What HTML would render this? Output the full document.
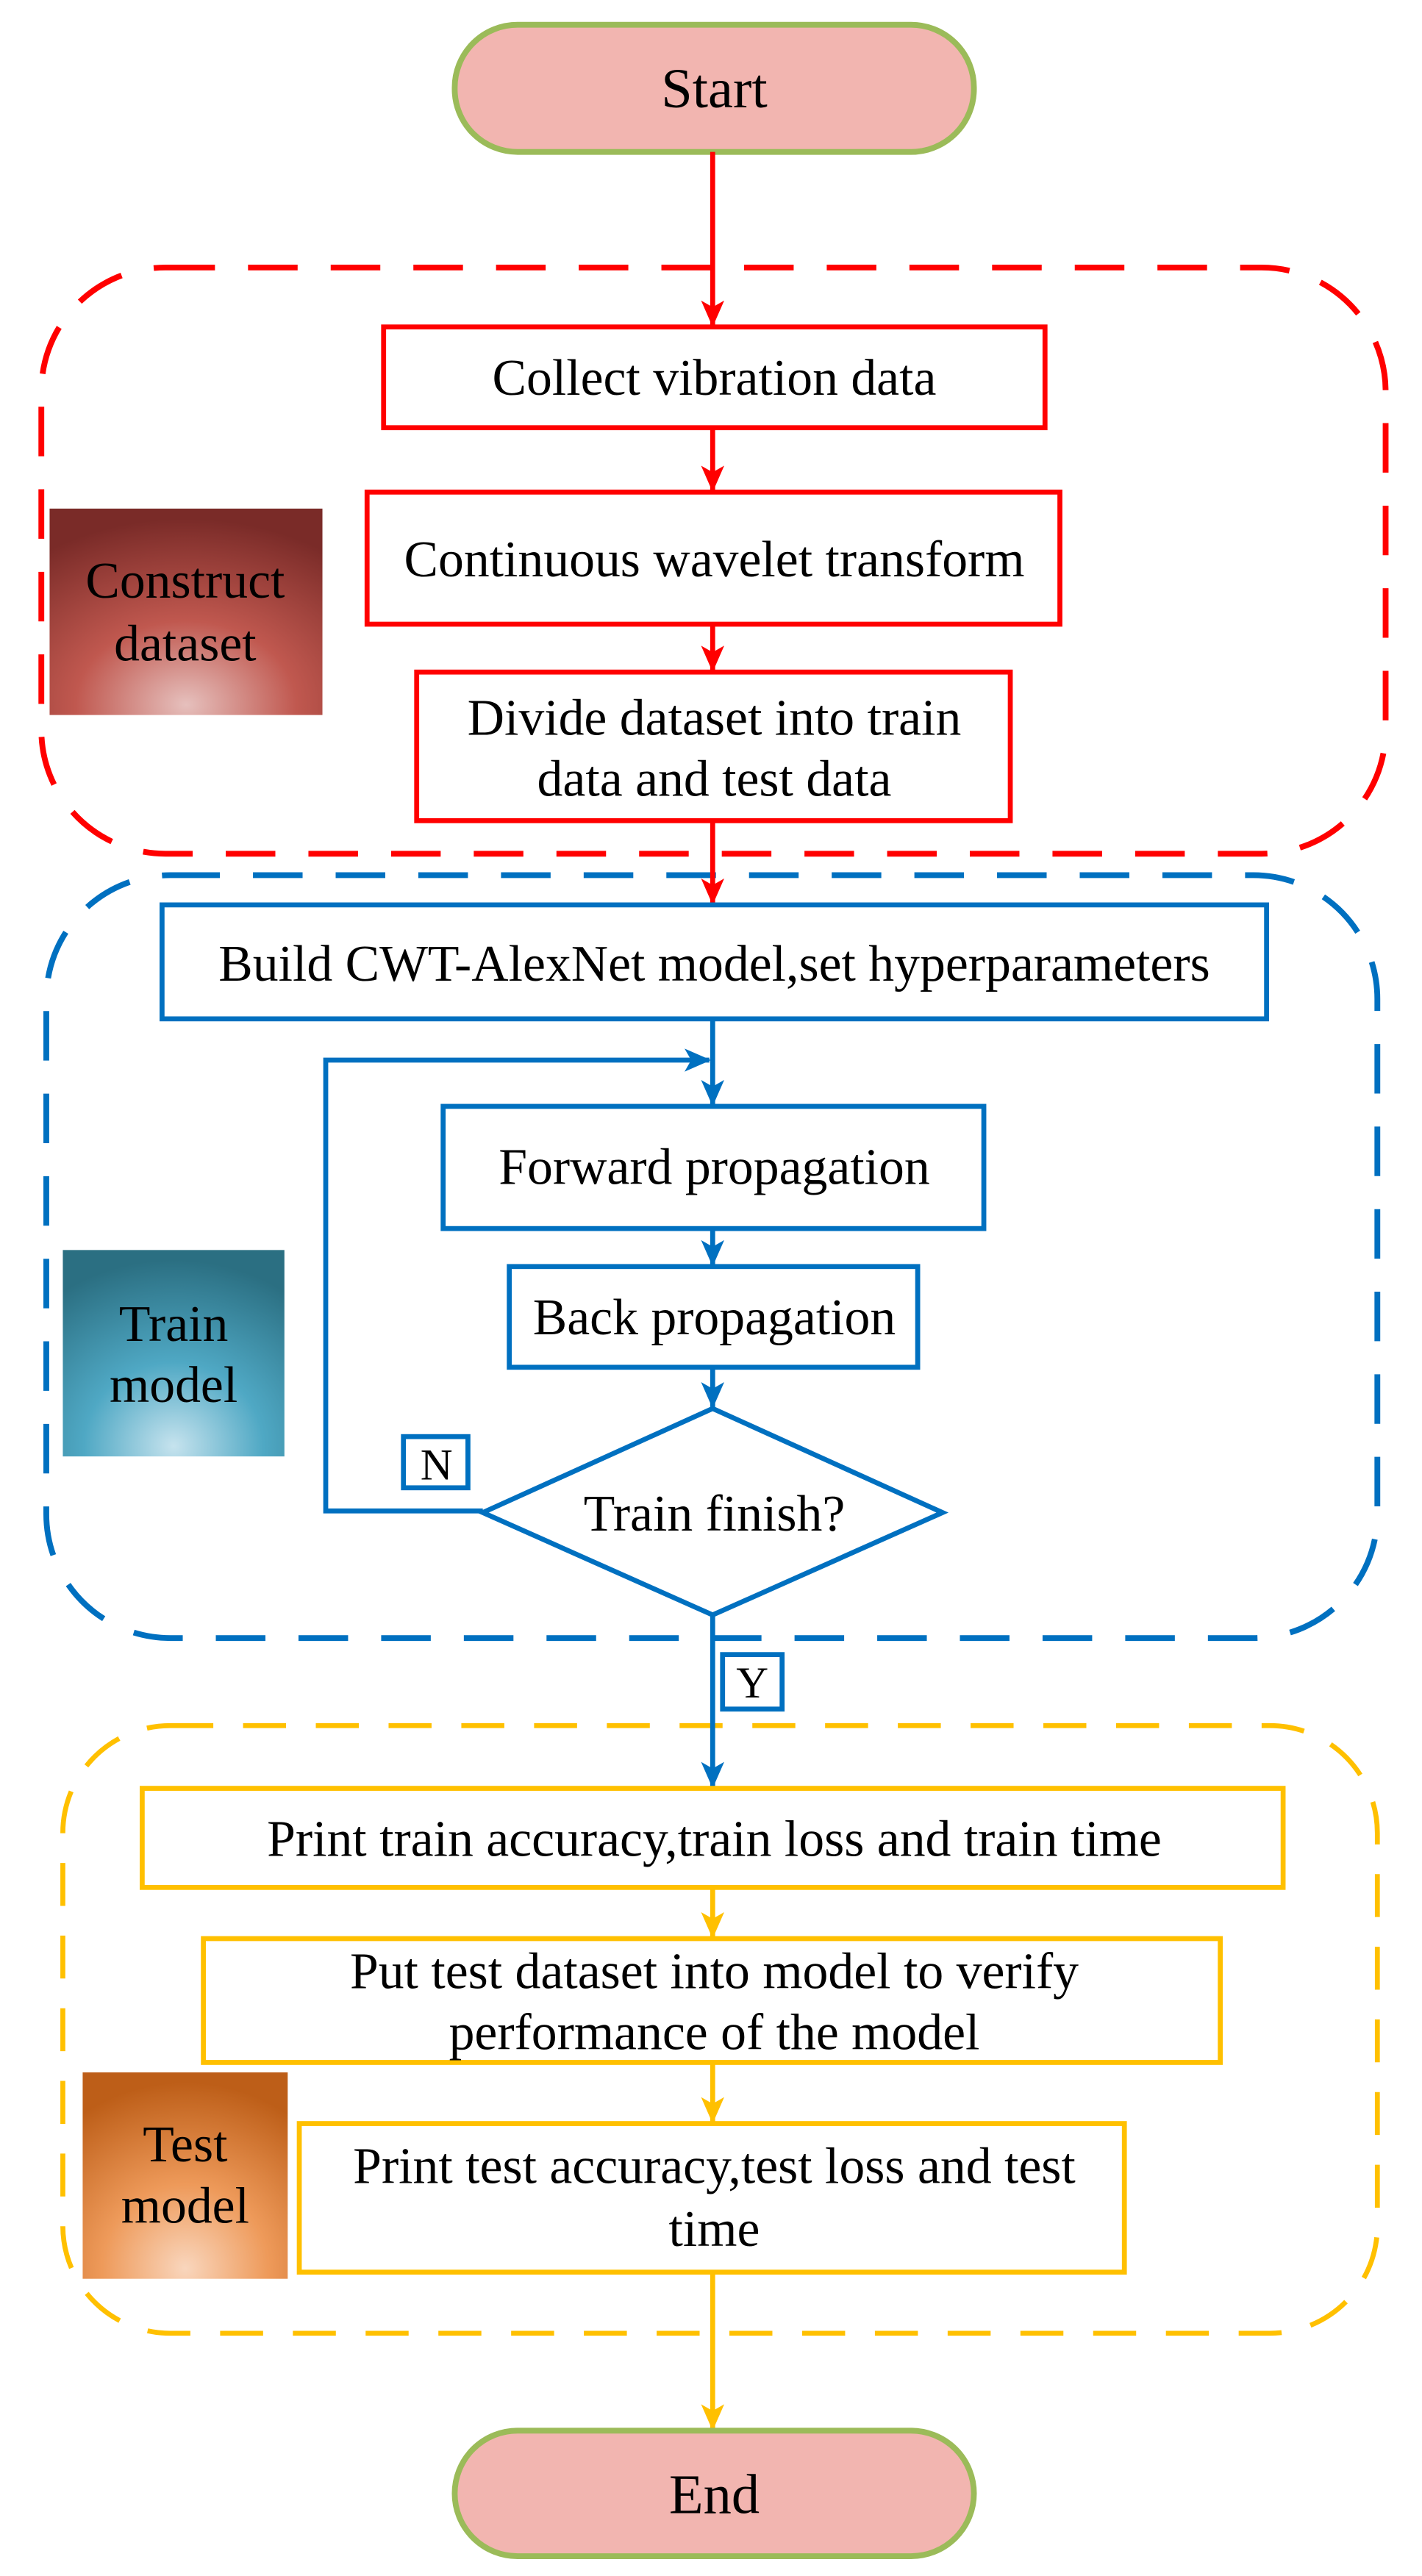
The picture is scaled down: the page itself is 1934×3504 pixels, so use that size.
<!DOCTYPE html>
<html><head><meta charset="utf-8"><style>html,body{margin:0;padding:0;background:#fff}svg{display:block}</style></head>
<body>
<svg width="1934" height="3504" viewBox="0 0 860 1560" preserveAspectRatio="none" xmlns="http://www.w3.org/2000/svg" font-family="Liberation Serif, serif" font-size="31" text-anchor="middle">
<defs>
<radialGradient id="gr" cx="0.5" cy="0.95" r="0.9"><stop offset="0" stop-color="#e6c0bd"/><stop offset="0.45" stop-color="#c0584f"/><stop offset="1" stop-color="#7a2b28"/></radialGradient>
<radialGradient id="gb" cx="0.5" cy="0.95" r="0.9"><stop offset="0" stop-color="#c6e3ee"/><stop offset="0.45" stop-color="#4fa8c4"/><stop offset="1" stop-color="#2b6f82"/></radialGradient>
<radialGradient id="go" cx="0.5" cy="0.95" r="0.9"><stop offset="0" stop-color="#f9d6bd"/><stop offset="0.45" stop-color="#ee9a5a"/><stop offset="1" stop-color="#bd5e18"/></radialGradient>
<marker id="ar" markerWidth="16" markerHeight="14" refX="15" refY="7" orient="auto" markerUnits="userSpaceOnUse"><path d="M0,0 L16,7 L0,14 L4,7z" fill="#ff0000"/></marker>
<marker id="ab" markerWidth="16" markerHeight="14" refX="15" refY="7" orient="auto" markerUnits="userSpaceOnUse"><path d="M0,0 L16,7 L0,14 L4,7z" fill="#0070c0"/></marker>
<marker id="ay" markerWidth="16" markerHeight="14" refX="15" refY="7" orient="auto" markerUnits="userSpaceOnUse"><path d="M0,0 L16,7 L0,14 L4,7z" fill="#ffc000"/></marker>
</defs>
<rect x="25" y="162" width="813" height="355" rx="75" fill="none" stroke="#ff0000" stroke-width="3.5" stroke-dasharray="30,20"/>
<rect x="28" y="530" width="805" height="462" rx="75" fill="none" stroke="#0070c0" stroke-width="3.5" stroke-dasharray="30,20"/>
<rect x="38" y="1045" width="795" height="368" rx="65" fill="none" stroke="#ffc000" stroke-width="3" stroke-dasharray="26,18"/>
<rect x="30" y="308" width="165" height="125" fill="url(#gr)"/>
<text x="112" y="362">Construct</text><text x="112" y="400">dataset</text>
<rect x="38" y="757" width="134" height="125" fill="url(#gb)"/>
<text x="105" y="812">Train</text><text x="105" y="849">model</text>
<rect x="50" y="1255" width="124" height="125" fill="url(#go)"/>
<text x="112" y="1309">Test</text><text x="112" y="1346">model</text>
<rect x="275" y="15" width="314" height="77" rx="38" fill="#f2b5b0" stroke="#9bbb59" stroke-width="3.5"/>
<text x="432" y="65" font-size="34">Start</text>
<line x1="431" y1="92" x2="431" y2="197" stroke="#ff0000" stroke-width="3" marker-end="url(#ar)"/>
<rect x="232" y="198" width="400" height="61" fill="#fff" stroke="#ff0000" stroke-width="3"/>
<text x="432" y="239">Collect vibration data</text>
<line x1="431" y1="259" x2="431" y2="297" stroke="#ff0000" stroke-width="3" marker-end="url(#ar)"/>
<rect x="222" y="298" width="419" height="80" fill="#fff" stroke="#ff0000" stroke-width="3"/>
<text x="432" y="349">Continuous wavelet transform</text>
<line x1="431" y1="378" x2="431" y2="406" stroke="#ff0000" stroke-width="3" marker-end="url(#ar)"/>
<rect x="252" y="407" width="359" height="90" fill="#fff" stroke="#ff0000" stroke-width="3"/>
<text x="432" y="445">Divide dataset into train</text><text x="432" y="482">data and test data</text>
<line x1="431" y1="497" x2="431" y2="547" stroke="#ff0000" stroke-width="3" marker-end="url(#ar)"/>
<rect x="98" y="548" width="668" height="69" fill="#fff" stroke="#0070c0" stroke-width="3"/>
<text x="432" y="594">Build CWT-AlexNet model,set hyperparameters</text>
<line x1="431" y1="617" x2="431" y2="669" stroke="#0070c0" stroke-width="3" marker-end="url(#ab)"/>
<polyline points="292,915 197,915 197,642 429,642" fill="none" stroke="#0070c0" stroke-width="3" marker-end="url(#ab)"/>
<rect x="268" y="670" width="327" height="74" fill="#fff" stroke="#0070c0" stroke-width="3"/>
<text x="432" y="717">Forward propagation</text>
<line x1="431" y1="744" x2="431" y2="766" stroke="#0070c0" stroke-width="3" marker-end="url(#ab)"/>
<rect x="308" y="767" width="247" height="61" fill="#fff" stroke="#0070c0" stroke-width="3"/>
<text x="432" y="808">Back propagation</text>
<line x1="431" y1="828" x2="431" y2="852" stroke="#0070c0" stroke-width="3" marker-end="url(#ab)"/>
<polygon points="431,853 570,916 431,978 292,916" fill="#fff" stroke="#0070c0" stroke-width="3"/>
<text x="432" y="927">Train finish?</text>
<rect x="244" y="870" width="39" height="31" fill="#fff" stroke="#0070c0" stroke-width="3"/>
<text x="264" y="896" font-size="27">N</text>
<line x1="431" y1="978" x2="431" y2="1082" stroke="#0070c0" stroke-width="3" marker-end="url(#ab)"/>
<rect x="437" y="1002" width="36" height="33" fill="#fff" stroke="#0070c0" stroke-width="3"/>
<text x="455" y="1028" font-size="27">Y</text>
<rect x="86" y="1083" width="690" height="60" fill="#fff" stroke="#ffc000" stroke-width="3"/>
<text x="432" y="1124">Print train accuracy,train loss and train time</text>
<line x1="431" y1="1143" x2="431" y2="1173" stroke="#ffc000" stroke-width="3" marker-end="url(#ay)"/>
<rect x="123" y="1174" width="615" height="75" fill="#fff" stroke="#ffc000" stroke-width="3"/>
<text x="432" y="1204">Put test dataset into model to verify</text><text x="432" y="1241">performance of the model</text>
<line x1="431" y1="1249" x2="431" y2="1285" stroke="#ffc000" stroke-width="3" marker-end="url(#ay)"/>
<rect x="181" y="1286" width="499" height="90" fill="#fff" stroke="#ffc000" stroke-width="3"/>
<text x="432" y="1322">Print test accuracy,test loss and test</text><text x="432" y="1360">time</text>
<line x1="431" y1="1376" x2="431" y2="1471" stroke="#ffc000" stroke-width="3" marker-end="url(#ay)"/>
<rect x="275" y="1472" width="314" height="76" rx="38" fill="#f2b5b0" stroke="#9bbb59" stroke-width="3.5"/>
<text x="432" y="1522" font-size="34">End</text>
</svg>
</body></html>
